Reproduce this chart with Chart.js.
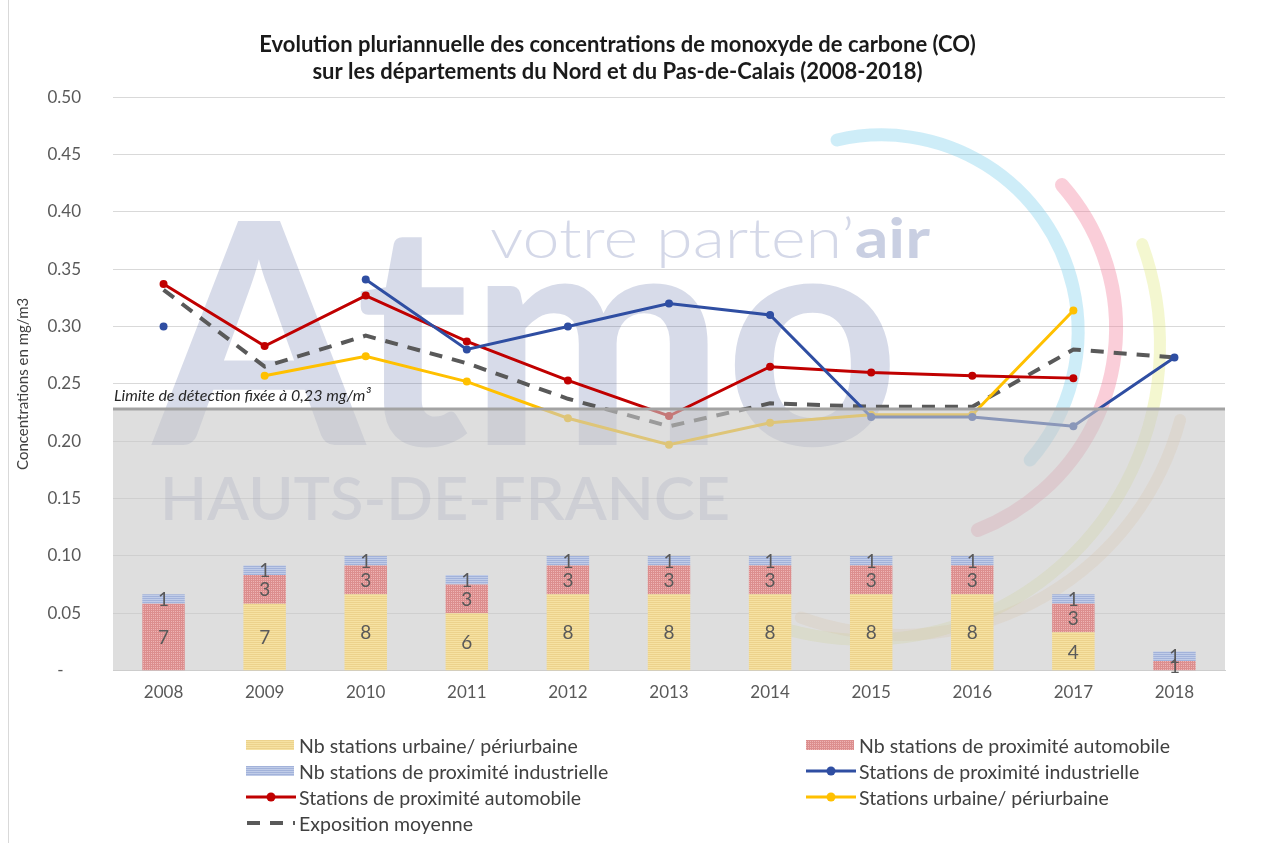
<!DOCTYPE html>
<html><head><meta charset="utf-8">
<script src="https://cdn.jsdelivr.net/npm/chart.js@4.4.1/dist/chart.umd.min.js"></script>
<style>
html,body{margin:0;padding:0;background:#fff;}
#wrap{position:relative;width:1282px;height:843px;overflow:hidden;background:#fff;}
#frame{position:absolute;left:8px;top:0;width:1px;height:843px;background:#d9d9d9;}
#c{position:absolute;left:0;top:0;}
#legend{position:absolute;left:245px;top:732px;display:grid;grid-template-columns:560px auto;grid-auto-rows:26px;font-family:Lato,sans-serif;font-size:19.5px;color:#404040;}
.item{display:flex;align-items:center;white-space:nowrap;}
.item canvas{margin-right:2px;}
</style></head><body>
<div id="wrap"><div id="frame"></div><canvas id="c" width="1282" height="843"></canvas><div id="legend"></div></div>
<script>
// ---- data ----
const years = ['2008','2009','2010','2011','2012','2013','2014','2015','2016','2017','2018'];
const nbUrbaine = [0, 7, 8, 6, 8, 8, 8, 8, 8, 4, 0];
const nbAuto    = [7, 3, 3, 3, 3, 3, 3, 3, 3, 3, 1];
const nbIndus   = [1, 1, 1, 1, 1, 1, 1, 1, 1, 1, 1];
const coIndus    = [0.300, null, 0.341, 0.280, 0.300, 0.320, 0.310, 0.221, 0.221, 0.213, 0.273];
const coAuto     = [0.337, 0.283, 0.327, 0.287, 0.253, 0.222, 0.265, 0.260, 0.257, 0.255, null];
const coUrbaine  = [null, 0.257, 0.274, 0.252, 0.220, 0.197, 0.216, 0.223, 0.223, 0.314, null];
const coMoyenne  = [0.332, 0.265, 0.292, 0.268, 0.237, 0.213, 0.233, 0.230, 0.230, 0.280, 0.273];
const detectionLimit = 0.228;
const stationsAxisMax = 60; // station counts drawn on a hidden axis aligned with 0-0.50
const titleLines = ['Evolution pluriannuelle des concentrations de monoxyde de carbone (CO)',
                    'sur les départements du Nord et du Pas-de-Calais (2008-2018)'];
const yTitle = 'Concentrations en mg/m3';
const limitLabel = 'Limite de détection fixée à 0,23 mg/m³';

const ctx = document.getElementById('c').getContext('2d');
function makePattern(base, stripe, grid){
  const cv = document.createElement('canvas'); cv.width = 4; cv.height = 4;
  const g = cv.getContext('2d');
  g.fillStyle = base; g.fillRect(0,0,4,4);
  g.fillStyle = stripe;
  g.fillRect(0,0,4,1); g.fillRect(0,2,4,1);
  if (grid){ g.fillRect(0,0,1,4); g.fillRect(2,0,1,4); }
  return ctx.createPattern(cv,'repeat');
}
const patYellow = makePattern('#f6e2a2', '#ecd28c', false);
const patRed    = makePattern('#eeb4b4', '#dc8e8e', true);
const patBlue   = makePattern('#c0cce8', '#a2b2da', false);

const FONT = 'Lato, "Open Sans", sans-serif';
const barCommon = {yAxisID:'yN', stack:'s', order:1, barPercentage:0.42, categoryPercentage:1};
const datasets = [
  Object.assign({type:'bar', label:'Nb stations urbaine/ périurbaine', data:nbUrbaine, backgroundColor:patYellow}, barCommon),
  Object.assign({type:'bar', label:'Nb stations de proximité automobile', data:nbAuto, backgroundColor:patRed}, barCommon),
  Object.assign({type:'bar', label:'Nb stations de proximité industrielle', data:nbIndus, backgroundColor:patBlue}, barCommon),
  {type:'line', label:'Stations de proximité industrielle', data:coIndus, borderColor:'#2F4EA2', backgroundColor:'#2F4EA2', borderWidth:3, pointRadius:4, pointBorderWidth:0, yAxisID:'y', order:5},
  {type:'line', label:'Stations de proximité automobile', data:coAuto, borderColor:'#C00000', backgroundColor:'#C00000', borderWidth:3, pointRadius:4, pointBorderWidth:0, yAxisID:'y', order:5},
  {type:'line', label:'Stations urbaine/ périurbaine', data:coUrbaine, borderColor:'#FFC000', backgroundColor:'#FFC000', borderWidth:3, pointRadius:4, pointBorderWidth:0, yAxisID:'y', order:5},
  {type:'line', label:'Exposition moyenne', data:coMoyenne, borderColor:'#595959', backgroundColor:'#595959', borderWidth:4, borderDash:[13,10], pointRadius:0, yAxisID:'y', order:6}
];

const watermark = {
  id:'watermark',
  beforeDatasetsDraw(chart){
    const c = chart.ctx; c.save();
    c.textBaseline = 'alphabetic';
    function fitText(txt, font, color, x, base, width){
      c.save(); c.font = font; c.fillStyle = color;
      const w = c.measureText(txt).width;
      c.translate(x, base); c.scale(width / w, 1); c.fillText(txt, 0, 0); c.restore();
    }
    fitText('Atmo', 'bold 310px ' + FONT, 'rgba(40,62,140,0.19)', 153, 445, 747);
    fitText('HAUTS-DE-FRANCE', '600 60px ' + FONT, 'rgba(40,62,140,0.19)', 160, 520, 570);
    c.font = '300 55px ' + FONT;
    const w1 = c.measureText('votre parten\u2019').width;
    c.font = 'bold 55px ' + FONT;
    const w2 = c.measureText('air').width;
    const sx = 440 / (w1 + w2);
    c.save(); c.translate(490, 258); c.scale(sx, 1);
    c.font = '300 55px ' + FONT; c.fillStyle = 'rgba(40,62,140,0.2)'; c.fillText('votre parten\u2019', 0, 0);
    c.font = 'bold 55px ' + FONT; c.fillStyle = 'rgba(40,62,140,0.25)'; c.fillText('air', w1, 0);
    c.restore();
    const arcs = [
      [881.6, 331.4, 196.5, -103.1, 40.9, 'rgba(120,205,235,0.36)', 13],
      [899.6, 328.2, 216.5, -41.4, 68.8, 'rgba(240,120,150,0.36)', 14],
      [865, 345, 295, -20, 110, 'rgba(220,230,110,0.32)', 12],
      [900, 345, 290, 15, 110, 'rgba(240,185,120,0.26)', 12]
    ];
    c.lineCap = 'round';
    arcs.forEach(a => {
      c.beginPath(); c.strokeStyle = a[5]; c.lineWidth = a[6];
      c.arc(a[0], a[1], a[2], a[3]*Math.PI/180, a[4]*Math.PI/180);
      c.stroke();
    });
    c.restore();
    chart.$overlayDone = false;
  },
  beforeDatasetDraw(chart, args){
    if (chart.$overlayDone) return;
    if (chart.data.datasets[args.index].type !== 'bar') return;
    chart.$overlayDone = true;
    const c = chart.ctx, a = chart.chartArea, y = chart.scales.y.getPixelForValue(detectionLimit);
    c.save();
    c.fillStyle = 'rgba(200,200,200,0.6)';
    c.fillRect(a.left, y, a.right - a.left, a.bottom - y);
    c.strokeStyle = '#a3a3a3'; c.lineWidth = 3;
    c.beginPath(); c.moveTo(a.left, y); c.lineTo(a.right, y); c.stroke();
    c.font = 'italic 16px ' + FONT; c.fillStyle = '#262626'; c.textBaseline = 'alphabetic';
    c.fillText(limitLabel, a.left + 1, y - 8);
    c.restore();
  },
  afterDatasetsDraw(chart){
    const c = chart.ctx; c.save();
    c.font = '19px ' + FONT; c.fillStyle = '#595959'; c.textAlign = 'center'; c.textBaseline = 'middle';
    chart.data.datasets.forEach((ds, i) => {
      if (ds.type !== 'bar') return;
      chart.getDatasetMeta(i).data.forEach((el, j) => {
        if (!ds.data[j]) return;
        c.fillText(String(ds.data[j]), el.x, (el.y + el.base) / 2 + 1);
      });
    });
    c.restore();
  }
};

const chart = new Chart(ctx, {
  data:{labels:years, datasets:datasets},
  plugins:[watermark],
  options:{
    responsive:false, animation:false,
    layout:{padding:{left:10, right:57, top:31, bottom:136}},
    plugins:{
      legend:{display:false}, tooltip:{enabled:false},
      title:{display:true, text:titleLines, color:'#1a1a1a', font:{family:FONT, size:22, weight:'bold', lineHeight:1.23}, padding:{top:0, bottom:12}}
    },
    scales:{
      x:{stacked:true, grid:{display:false}, border:{display:true, color:'#d0d0d0'},
         ticks:{font:{family:FONT, size:17}, color:'#595959', padding:4}},
      y:{min:0, max:0.5, position:'left',
         ticks:{stepSize:0.05, padding:32, font:{family:FONT, size:17}, color:'#595959',
                callback:v => (Math.abs(v) < 1e-9 ? '-    ' : Number(v).toFixed(2))},
         grid:{color:'#d9d9d9', drawTicks:false}, border:{display:false},
         title:{display:true, text:yTitle, color:'#404040', font:{family:FONT, size:15}, padding:{top:4, bottom:4}},
         afterFit:s => { s.width = 103; }},
      yN:{display:false, stacked:true, min:0, max:stationsAxisMax}
    }
  }
});

// ---- HTML legend ----
const legendOrder = [0, 1, 2, 3, 4, 5, 6];
const lg = document.getElementById('legend');
legendOrder.forEach(i => {
  const ds = chart.data.datasets[i];
  const item = document.createElement('div'); item.className = 'item';
  const mk = document.createElement('canvas'); mk.width = 52; mk.height = 14;
  const m = mk.getContext('2d');
  if (ds.type === 'bar'){
    m.fillStyle = ds.backgroundColor; m.fillRect(1, 2, 48, 10);
  } else {
    m.strokeStyle = ds.borderColor; m.lineWidth = ds.borderWidth;
    if (ds.borderDash){ m.setLineDash([13, 10]); m.lineWidth = 4; m.beginPath(); m.moveTo(2, 7); m.lineTo(50, 7); m.stroke(); }
    else { m.beginPath(); m.moveTo(1, 7); m.lineTo(51, 7); m.stroke(); }
    if (ds.pointRadius){ m.fillStyle = ds.backgroundColor; m.beginPath(); m.arc(26, 7, 4.5, 0, Math.PI*2); m.fill(); }
  }
  const t = document.createElement('span'); t.textContent = ds.label;
  item.appendChild(mk); item.appendChild(t); lg.appendChild(item);
});
</script>
</body></html>
